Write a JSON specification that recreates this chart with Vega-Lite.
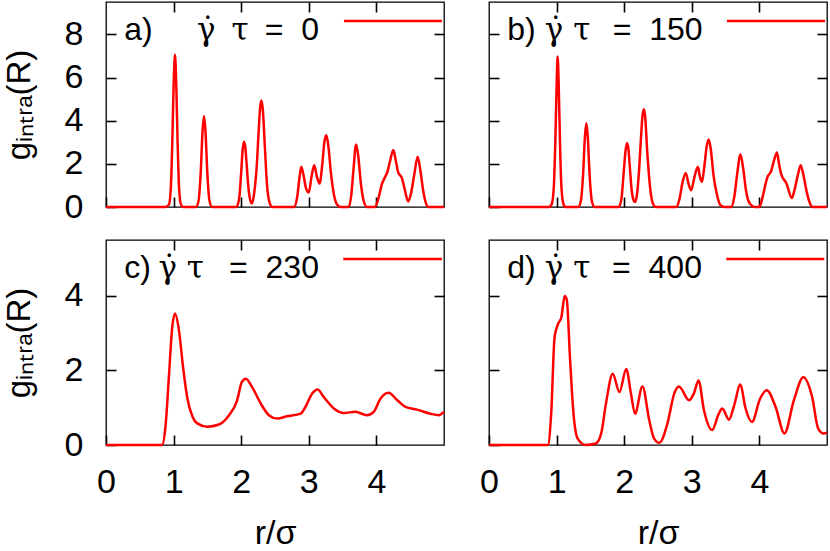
{
  "$schema": "https://vega.github.io/schema/vega-lite/v6.json",
  "padding": {"left": 2, "top": 0, "right": 0, "bottom": 0},
  "background": "white",
  "config": {
    "view": {"stroke": "black", "strokeWidth": 1.3},
    "font": "Liberation Sans",
    "axis": {"grid": false, "domain": false, "ticks": true, "tickColor": "black", "tickSize": -10, "tickWidth": 1.6, "labelFont": "Liberation Sans", "labelFontSize": 34, "labelColor": "black", "titleFont": "Liberation Sans", "titleFontSize": 34, "titleFontWeight": "normal", "titleColor": "black", "labelFlush": false, "labelOverlap": false},
    "axisX": {"labelPadding": 30, "titlePadding": 17},
    "axisY": {"labelPadding": 33, "titlePadding": 28, "titleFontSize": 33},
    "text": {"font": "Liberation Sans", "fontSize": 32, "color": "black"}
  },
  "datasets": {
    "a": [
      {"r":0,"g":0},{"r":0.88,"g":0},{"r":0.93,"g":0.1},{"r":0.96,"g":0.95},{"r":0.98,"g":2.9},{"r":1.0,"g":5.6},{"r":1.02,"g":7.05},{"r":1.04,"g":5.6},{"r":1.06,"g":2.9},{"r":1.08,"g":0.95},{"r":1.11,"g":0.1},{"r":1.15,"g":0},
      {"r":1.33,"g":0},{"r":1.37,"g":0.3},{"r":1.40,"g":1.53},{"r":1.43,"g":3.6},{"r":1.45,"g":4.22},{"r":1.47,"g":3.6},{"r":1.50,"g":1.53},{"r":1.53,"g":0.3},{"r":1.57,"g":0},
      {"r":1.93,"g":0},{"r":1.97,"g":0.4},{"r":2.00,"g":1.6},{"r":2.02,"g":2.6},{"r":2.04,"g":3.02},{"r":2.06,"g":2.8},{"r":2.08,"g":2.0},{"r":2.11,"g":0.8},{"r":2.14,"g":0.25},{"r":2.16,"g":0.16},{"r":2.19,"g":0.6},{"r":2.23,"g":1.9},{"r":2.26,"g":3.6},{"r":2.28,"g":4.6},{"r":2.30,"g":4.93},{"r":2.32,"g":4.5},{"r":2.35,"g":2.8},{"r":2.38,"g":1.1},{"r":2.42,"g":0.2},{"r":2.46,"g":0},
      {"r":2.78,"g":0},{"r":2.83,"g":0.5},{"r":2.86,"g":1.3},{"r":2.89,"g":1.86},{"r":2.92,"g":1.5},{"r":2.96,"g":0.85},{"r":3.0,"g":0.67},{"r":3.04,"g":1.4},{"r":3.08,"g":1.94},{"r":3.12,"g":1.4},{"r":3.16,"g":1.09},{"r":3.20,"g":2.0},{"r":3.23,"g":3.0},{"r":3.26,"g":3.33},{"r":3.29,"g":2.8},{"r":3.33,"g":1.5},{"r":3.37,"g":0.6},{"r":3.42,"g":0.1},{"r":3.47,"g":0},
      {"r":3.59,"g":0},{"r":3.63,"g":0.6},{"r":3.66,"g":1.7},{"r":3.70,"g":2.9},{"r":3.73,"g":2.4},{"r":3.77,"g":1.1},{"r":3.81,"g":0.3},{"r":3.86,"g":0},
      {"r":3.98,"g":0},{"r":4.03,"g":0.4},{"r":4.08,"g":1.05},{"r":4.13,"g":1.40},{"r":4.16,"g":1.6},{"r":4.20,"g":2.1},{"r":4.25,"g":2.64},{"r":4.29,"g":2.1},{"r":4.32,"g":1.63},{"r":4.38,"g":1.32},{"r":4.42,"g":0.8},{"r":4.47,"g":0.26},{"r":4.51,"g":0.6},{"r":4.56,"g":1.5},{"r":4.61,"g":2.33},{"r":4.65,"g":1.7},{"r":4.69,"g":0.8},{"r":4.73,"g":0.2},{"r":4.77,"g":0},{"r":5.0,"g":0}
    ],
    "b": [
      {"r":0,"g":0},{"r":0.89,"g":0},{"r":0.93,"g":0.15},{"r":0.96,"g":1.0},{"r":0.98,"g":2.9},{"r":1.0,"g":5.6},{"r":1.015,"g":6.98},{"r":1.03,"g":5.8},{"r":1.05,"g":3.0},{"r":1.07,"g":1.0},{"r":1.10,"g":0.15},{"r":1.13,"g":0},
      {"r":1.32,"g":0},{"r":1.36,"g":0.3},{"r":1.39,"g":1.4},{"r":1.42,"g":3.3},{"r":1.44,"g":3.88},{"r":1.46,"g":3.3},{"r":1.49,"g":1.4},{"r":1.52,"g":0.3},{"r":1.56,"g":0},
      {"r":1.92,"g":0},{"r":1.96,"g":0.4},{"r":1.99,"g":1.5},{"r":2.02,"g":2.6},{"r":2.04,"g":2.95},{"r":2.06,"g":2.76},{"r":2.08,"g":2.0},{"r":2.11,"g":0.8},{"r":2.14,"g":0.3},{"r":2.16,"g":0.23},{"r":2.19,"g":0.6},{"r":2.22,"g":1.7},{"r":2.25,"g":3.3},{"r":2.27,"g":4.2},{"r":2.29,"g":4.53},{"r":2.31,"g":4.2},{"r":2.34,"g":2.6},{"r":2.38,"g":1.0},{"r":2.42,"g":0.2},{"r":2.47,"g":0},
      {"r":2.77,"g":0},{"r":2.82,"g":0.4},{"r":2.86,"g":1.1},{"r":2.91,"g":1.58},{"r":2.95,"g":1.1},{"r":2.99,"g":0.78},{"r":3.04,"g":1.4},{"r":3.09,"g":1.86},{"r":3.12,"g":1.4},{"r":3.15,"g":1.16},{"r":3.19,"g":2.0},{"r":3.22,"g":2.8},{"r":3.25,"g":3.13},{"r":3.28,"g":2.7},{"r":3.32,"g":1.5},{"r":3.37,"g":0.6},{"r":3.42,"g":0.1},{"r":3.48,"g":0},
      {"r":3.58,"g":0},{"r":3.63,"g":0.5},{"r":3.67,"g":1.5},{"r":3.72,"g":2.43},{"r":3.76,"g":1.8},{"r":3.80,"g":0.8},{"r":3.85,"g":0.2},{"r":3.93,"g":0},
      {"r":4.0,"g":0},{"r":4.05,"g":0.5},{"r":4.09,"g":1.05},{"r":4.12,"g":1.40},{"r":4.17,"g":1.63},{"r":4.22,"g":2.2},{"r":4.26,"g":2.53},{"r":4.29,"g":2.0},{"r":4.32,"g":1.55},{"r":4.40,"g":1.09},{"r":4.48,"g":0.42},{"r":4.52,"g":0.8},{"r":4.57,"g":1.5},{"r":4.61,"g":1.94},{"r":4.65,"g":1.5},{"r":4.70,"g":0.7},{"r":4.75,"g":0.15},{"r":4.79,"g":0},{"r":5.0,"g":0}
    ],
    "c": [
      {"r":0,"g":0},{"r":0.83,"g":0},{"r":0.88,"g":0.49},{"r":0.93,"g":1.82},{"r":0.98,"g":3.16},{"r":1.02,"g":3.53},{"r":1.08,"g":3.07},{"r":1.14,"g":2.09},{"r":1.20,"g":1.29},{"r":1.28,"g":0.76},{"r":1.35,"g":0.58},{"r":1.50,"g":0.49},{"r":1.67,"g":0.55},{"r":1.82,"g":0.80},{"r":1.94,"g":1.2},{"r":2.01,"g":1.69},{"r":2.07,"g":1.78},{"r":2.16,"g":1.56},{"r":2.29,"g":1.11},{"r":2.41,"g":0.80},{"r":2.53,"g":0.71},{"r":2.68,"g":0.77},{"r":2.88,"g":0.84},{"r":2.95,"g":1.02},{"r":3.05,"g":1.38},{"r":3.13,"g":1.49},{"r":3.22,"g":1.29},{"r":3.37,"g":0.98},{"r":3.52,"g":0.86},{"r":3.69,"g":0.89},{"r":3.86,"g":0.80},{"r":3.96,"g":0.89},{"r":4.06,"g":1.24},{"r":4.18,"g":1.40},{"r":4.31,"g":1.2},{"r":4.43,"g":1.02},{"r":4.60,"g":0.95},{"r":4.80,"g":0.84},{"r":4.92,"g":0.80},{"r":5.0,"g":0.89}
    ],
    "d": [
      {"r":0,"g":0},{"r":0.87,"g":0},{"r":0.92,"g":0.84},{"r":0.97,"g":2.89},{"r":1.02,"g":3.24},{"r":1.07,"g":3.42},{"r":1.12,"g":4.0},{"r":1.15,"g":3.91},{"r":1.20,"g":2.27},{"r":1.25,"g":0.84},{"r":1.31,"g":0.18},{"r":1.43,"g":0},{"r":1.58,"g":0.04},{"r":1.66,"g":0.31},{"r":1.73,"g":1.11},{"r":1.83,"g":1.91},{"r":1.93,"g":1.42},{"r":2.03,"g":2.04},{"r":2.10,"g":1.38},{"r":2.16,"g":0.84},{"r":2.27,"g":1.57},{"r":2.37,"g":0.67},{"r":2.44,"g":0.18},{"r":2.52,"g":0.06},{"r":2.64,"g":0.58},{"r":2.74,"g":1.38},{"r":2.81,"g":1.57},{"r":2.96,"g":1.2},{"r":3.03,"g":1.38},{"r":3.10,"g":1.73},{"r":3.18,"g":0.93},{"r":3.30,"g":0.40},{"r":3.40,"g":0.84},{"r":3.45,"g":0.98},{"r":3.55,"g":0.68},{"r":3.62,"g":1.02},{"r":3.72,"g":1.62},{"r":3.79,"g":1.02},{"r":3.89,"g":0.62},{"r":4.01,"g":1.24},{"r":4.11,"g":1.47},{"r":4.24,"g":1.02},{"r":4.37,"g":0.31},{"r":4.51,"g":1.2},{"r":4.65,"g":1.82},{"r":4.78,"g":1.29},{"r":4.87,"g":0.44},{"r":4.95,"g":0.31},{"r":5.0,"g":0.33}
    ],
    "one": [{}]
  },
  "columns": 2,
  "bounds": "flush",
  "spacing": {"row": 33, "column": 45},
  "concat": [
    {
      "width": 338, "height": 205,
      "layer": [
        {"data": {"name": "a"}, "mark": {"type": "line", "color": "#ff0000", "strokeWidth": 2.5, "interpolate": "monotone"},
         "encoding": {
           "x": {"field": "r", "type": "quantitative", "scale": {"domain": [0, 5], "nice": false, "zero": false}, "axis": {"orient": "bottom", "values": [0,1,2,3,4], "labels": false, "title": null}},
           "y": {"field": "g", "type": "quantitative", "scale": {"domain": [0, 9.5], "nice": false}, "axis": {"orient": "left", "values": [0,2,4,6,8], "title": "gᵢₙₜᵣₐ(R)"}}
         }},
        {"data": {"name": "one"}, "mark": {"type": "rule", "color": "#ff0000", "strokeWidth": 2.5},
         "encoding": {
           "x": {"datum": 3.52, "type": "quantitative", "axis": {"orient": "top", "values": [1,2,3,4], "labels": false, "title": null}},
           "x2": {"datum": 4.97},
           "y": {"datum": 8.62, "type": "quantitative", "axis": {"orient": "right", "values": [2,4,6,8], "labels": false, "title": null}}
         }},
        {"data": {"name": "one"}, "mark": {"type": "text", "align": "left", "baseline": "alphabetic", "text": "a)"},
         "encoding": {"x": {"datum": 0.27, "type": "quantitative", "axis": null}, "y": {"datum": 7.74, "type": "quantitative", "axis": null}}},
        {"data": {"name": "one"}, "mark": {"type": "text", "align": "right", "baseline": "alphabetic", "font": "DejaVu Serif", "fontSize": 31, "text": "γ̇\u00a0\u2009τ"},
         "encoding": {"x": {"datum": 2.11, "type": "quantitative", "axis": null}, "y": {"datum": 7.74, "type": "quantitative", "axis": null}}},
        {"data": {"name": "one"}, "mark": {"type": "text", "align": "right", "baseline": "alphabetic", "text": "=\u00a0\u00a00"},
         "encoding": {"x": {"datum": 3.15, "type": "quantitative", "axis": null}, "y": {"datum": 7.74, "type": "quantitative", "axis": null}}}
      ],
      "resolve": {"axis": {"x": "independent", "y": "independent"}}
    },
    {
      "width": 338, "height": 205,
      "layer": [
        {"data": {"name": "b"}, "mark": {"type": "line", "color": "#ff0000", "strokeWidth": 2.5, "interpolate": "monotone"},
         "encoding": {
           "x": {"field": "r", "type": "quantitative", "scale": {"domain": [0, 5], "nice": false, "zero": false}, "axis": {"orient": "bottom", "values": [0,1,2,3,4], "labels": false, "title": null}},
           "y": {"field": "g", "type": "quantitative", "scale": {"domain": [0, 9.5], "nice": false}, "axis": {"orient": "left", "values": [0,2,4,6,8], "labels": false, "title": null}}
         }},
        {"data": {"name": "one"}, "mark": {"type": "rule", "color": "#ff0000", "strokeWidth": 2.5},
         "encoding": {
           "x": {"datum": 3.52, "type": "quantitative", "axis": {"orient": "top", "values": [1,2,3,4], "labels": false, "title": null}},
           "x2": {"datum": 4.97},
           "y": {"datum": 8.62, "type": "quantitative", "axis": {"orient": "right", "values": [2,4,6,8], "labels": false, "title": null}}
         }},
        {"data": {"name": "one"}, "mark": {"type": "text", "align": "left", "baseline": "alphabetic", "text": "b)"},
         "encoding": {"x": {"datum": 0.27, "type": "quantitative", "axis": null}, "y": {"datum": 7.74, "type": "quantitative", "axis": null}}},
        {"data": {"name": "one"}, "mark": {"type": "text", "align": "right", "baseline": "alphabetic", "font": "DejaVu Serif", "fontSize": 31, "text": "γ̇\u00a0τ"},
         "encoding": {"x": {"datum": 1.50, "type": "quantitative", "axis": null}, "y": {"datum": 7.74, "type": "quantitative", "axis": null}}},
        {"data": {"name": "one"}, "mark": {"type": "text", "align": "right", "baseline": "alphabetic", "text": "=\u00a0\u00a0150"},
         "encoding": {"x": {"datum": 3.16, "type": "quantitative", "axis": null}, "y": {"datum": 7.74, "type": "quantitative", "axis": null}}}
      ],
      "resolve": {"axis": {"x": "independent", "y": "independent"}}
    },
    {
      "width": 338, "height": 205,
      "layer": [
        {"data": {"name": "c"}, "mark": {"type": "line", "color": "#ff0000", "strokeWidth": 2.5, "interpolate": "monotone"},
         "encoding": {
           "x": {"field": "r", "type": "quantitative", "scale": {"domain": [0, 5], "nice": false, "zero": false}, "axis": {"orient": "bottom", "values": [0,1,2,3,4], "title": "r/σ"}},
           "y": {"field": "g", "type": "quantitative", "scale": {"domain": [0, 5.5], "nice": false}, "axis": {"orient": "left", "values": [0,2,4], "title": "gᵢₙₜᵣₐ(R)"}}
         }},
        {"data": {"name": "one"}, "mark": {"type": "rule", "color": "#ff0000", "strokeWidth": 2.5},
         "encoding": {
           "x": {"datum": 3.51, "type": "quantitative", "axis": {"orient": "top", "values": [1,2,3,4], "labels": false, "title": null}},
           "x2": {"datum": 4.97},
           "y": {"datum": 4.99, "type": "quantitative", "axis": {"orient": "right", "values": [2,4], "labels": false, "title": null}}
         }},
        {"data": {"name": "one"}, "mark": {"type": "text", "align": "left", "baseline": "alphabetic", "text": "c)"},
         "encoding": {"x": {"datum": 0.27, "type": "quantitative", "axis": null}, "y": {"datum": 4.48, "type": "quantitative", "axis": null}}},
        {"data": {"name": "one"}, "mark": {"type": "text", "align": "right", "baseline": "alphabetic", "font": "DejaVu Serif", "fontSize": 31, "text": "γ̇\u00a0τ"},
         "encoding": {"x": {"datum": 1.45, "type": "quantitative", "axis": null}, "y": {"datum": 4.48, "type": "quantitative", "axis": null}}},
        {"data": {"name": "one"}, "mark": {"type": "text", "align": "right", "baseline": "alphabetic", "text": "=\u00a0\u00a0230"},
         "encoding": {"x": {"datum": 3.15, "type": "quantitative", "axis": null}, "y": {"datum": 4.48, "type": "quantitative", "axis": null}}}
      ],
      "resolve": {"axis": {"x": "independent", "y": "independent"}}
    },
    {
      "width": 338, "height": 205,
      "layer": [
        {"data": {"name": "d"}, "mark": {"type": "line", "color": "#ff0000", "strokeWidth": 2.5, "interpolate": "monotone"},
         "encoding": {
           "x": {"field": "r", "type": "quantitative", "scale": {"domain": [0, 5], "nice": false, "zero": false}, "axis": {"orient": "bottom", "values": [0,1,2,3,4], "title": "r/σ"}},
           "y": {"field": "g", "type": "quantitative", "scale": {"domain": [0, 5.5], "nice": false}, "axis": {"orient": "left", "values": [0,2,4], "labels": false, "title": null}}
         }},
        {"data": {"name": "one"}, "mark": {"type": "rule", "color": "#ff0000", "strokeWidth": 2.5},
         "encoding": {
           "x": {"datum": 3.51, "type": "quantitative", "axis": {"orient": "top", "values": [1,2,3,4], "labels": false, "title": null}},
           "x2": {"datum": 4.96},
           "y": {"datum": 4.99, "type": "quantitative", "axis": {"orient": "right", "values": [2,4], "labels": false, "title": null}}
         }},
        {"data": {"name": "one"}, "mark": {"type": "text", "align": "left", "baseline": "alphabetic", "text": "d)"},
         "encoding": {"x": {"datum": 0.27, "type": "quantitative", "axis": null}, "y": {"datum": 4.48, "type": "quantitative", "axis": null}}},
        {"data": {"name": "one"}, "mark": {"type": "text", "align": "right", "baseline": "alphabetic", "font": "DejaVu Serif", "fontSize": 31, "text": "γ̇\u00a0τ"},
         "encoding": {"x": {"datum": 1.50, "type": "quantitative", "axis": null}, "y": {"datum": 4.48, "type": "quantitative", "axis": null}}},
        {"data": {"name": "one"}, "mark": {"type": "text", "align": "right", "baseline": "alphabetic", "text": "=\u00a0\u00a0400"},
         "encoding": {"x": {"datum": 3.15, "type": "quantitative", "axis": null}, "y": {"datum": 4.48, "type": "quantitative", "axis": null}}}
      ],
      "resolve": {"axis": {"x": "independent", "y": "independent"}}
    }
  ]
}
